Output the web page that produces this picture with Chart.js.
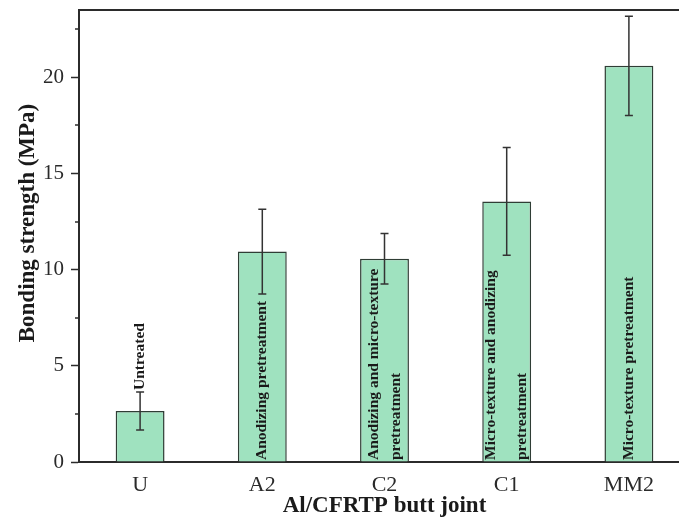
<!DOCTYPE html>
<html>
<head>
<meta charset="utf-8">
<title>Bonding strength of Al/CFRTP butt joints</title>
<script src="https://cdn.jsdelivr.net/npm/chart.js@4.4.1/dist/chart.umd.min.js"></script>
<style>
  html, body { margin: 0; padding: 0; background: #fff; overflow: hidden; }
  canvas { display: block; }
</style>
</head>
<body>
<canvas id="strengthChart" width="690" height="526"></canvas>
<script>
// Chart data
// ==========

const joints = ['U', 'A2', 'C2', 'C1', 'MM2'];
const strength = [2.65, 10.94, 10.57, 13.55, 20.6];
const strengthErr = [0.99, 2.2, 1.31, 2.8, 2.58];
const treatments = [
    ['Untreated'],
    ['Anodizing pretreatment'],
    ['Anodizing and micro-texture', 'pretreatment'],
    ['Micro-texture and anodizing', 'pretreatment'],
    ['Micro-texture pretreatment']
];
const yTicks = [0, 5, 10, 15, 20];

const SERIF = "'Liberation Serif', 'Times New Roman', serif";
const AXIS_COLOR = '#2b2b2b';

// Error bars, minor ticks, top frame line and in-bar captions
const decorations = {
    id: 'decorations',
    afterDatasetsDraw(chart, args, opts) {
        const { ctx, chartArea } = chart;
        const y = chart.scales.y;
        const meta = chart.getDatasetMeta(0);

        ctx.save();

        // captions inside the bars
        ctx.fillStyle = '#1a1a1a';
        ctx.font = 'bold 15.5px ' + SERIF;
        ctx.textAlign = 'left';
        ctx.textBaseline = 'middle';
        meta.data.forEach((bar, i) => {
            const lines = treatments[i];
            const spread = opts.lineSpread[i];
            let startY = y.getPixelForValue(0) - 2;
            if (opts.captionAbove[i]) {
                startY = y.getPixelForValue(strength[i] + strengthErr[i]) - 2;
            }
            lines.forEach((line, k) => {
                const dx = (k - (lines.length - 1) / 2) * spread;
                ctx.save();
                ctx.translate(bar.x + dx, startY);
                ctx.rotate(-Math.PI / 2);
                ctx.fillText(line, 0, 0);
                ctx.restore();
            });
        });

        // error bars
        ctx.strokeStyle = '#333';
        ctx.lineWidth = 1.5;
        meta.data.forEach((bar, i) => {
            const top = y.getPixelForValue(strength[i] + strengthErr[i]);
            const bottom = y.getPixelForValue(strength[i] - strengthErr[i]);
            const cap = 4;
            ctx.beginPath();
            ctx.moveTo(bar.x, top);
            ctx.lineTo(bar.x, bottom);
            ctx.moveTo(bar.x - cap, top);
            ctx.lineTo(bar.x + cap, top);
            ctx.moveTo(bar.x - cap, bottom);
            ctx.lineTo(bar.x + cap, bottom);
            ctx.stroke();
        });

        // minor ticks halfway between the major ones
        ctx.strokeStyle = AXIS_COLOR;
        ctx.lineWidth = 1.5;
        for (let k = 0; k < yTicks.length; k++) {
            const minor = yTicks[k] + 2.5;
            if (minor > y.max) break;
            const py = Math.round(y.getPixelForValue(minor));
            ctx.beginPath();
            ctx.moveTo(chartArea.left - 4, py);
            ctx.lineTo(chartArea.left, py);
            ctx.stroke();
        }

        // top frame line
        ctx.lineWidth = 2;
        ctx.beginPath();
        ctx.moveTo(chartArea.left - 1, chartArea.top);
        ctx.lineTo(chartArea.right, chartArea.top);
        ctx.stroke();

        // y axis title
        ctx.fillStyle = '#1a1a1a';
        ctx.font = 'bold 23px ' + SERIF;
        ctx.textAlign = 'center';
        ctx.textBaseline = 'middle';
        ctx.translate(28, 223);
        ctx.rotate(-Math.PI / 2);
        ctx.fillText('Bonding strength (MPa)', 0, 0);

        ctx.restore();
    }
};

const ctx = document.getElementById('strengthChart');

new Chart(ctx, {
    type: 'bar',
    data: {
        labels: joints,
        datasets: [{
            label: 'Bonding strength',
            data: strength,
            backgroundColor: '#9fe2bf',
            borderColor: '#2f3d35',
            borderWidth: 1.5,
            barPercentage: 0.4,
            categoryPercentage: 1
        }]
    },
    options: {
        responsive: false,
        devicePixelRatio: 1,
        animation: false,
        layout: { padding: { top: 10, left: 0, right: 0, bottom: 0 } },
        plugins: {
            legend: { display: false },
            tooltip: { enabled: false },
            decorations: {
                lineSpread: [0, 0, 22, 31, 0],
                captionAbove: [true, false, false, false, false]
            }
        },
        scales: {
            x: {
                afterFit: scale => {
                    scale.height = 64;
                    scale.paddingLeft = 0;
                    scale.paddingRight = 0;
                },
                grid: { display: true, drawOnChartArea: false, drawTicks: false },
                border: { display: true, color: AXIS_COLOR, width: 2 },
                ticks: {
                    color: '#2a2a2a',
                    padding: 10,
                    font: { family: SERIF, size: 22 }
                },
                title: {
                    display: true,
                    text: 'Al/CFRTP butt joint',
                    color: '#1a1a1a',
                    font: { family: SERIF, size: 23, weight: 'bold' },
                    padding: { top: 0, bottom: 6 }
                }
            },
            y: {
                min: 0,
                max: 23.5,
                afterFit: scale => {
                    scale.width = 79;
                    scale.paddingTop = 0;
                    scale.paddingBottom = 0;
                },
                afterBuildTicks: scale => {
                    scale.ticks = yTicks.map(v => ({ value: v }));
                },
                grid: {
                    display: true,
                    drawOnChartArea: false,
                    drawTicks: true,
                    tickLength: 8,
                    tickWidth: 1.5,
                    tickColor: AXIS_COLOR
                },
                border: { display: true, color: AXIS_COLOR, width: 2 },
                ticks: {
                    color: '#2a2a2a',
                    padding: 7,
                    font: { family: SERIF, size: 21 }
                }
            }
        }
    },
    plugins: [decorations]
});
</script>
</body>
</html>
